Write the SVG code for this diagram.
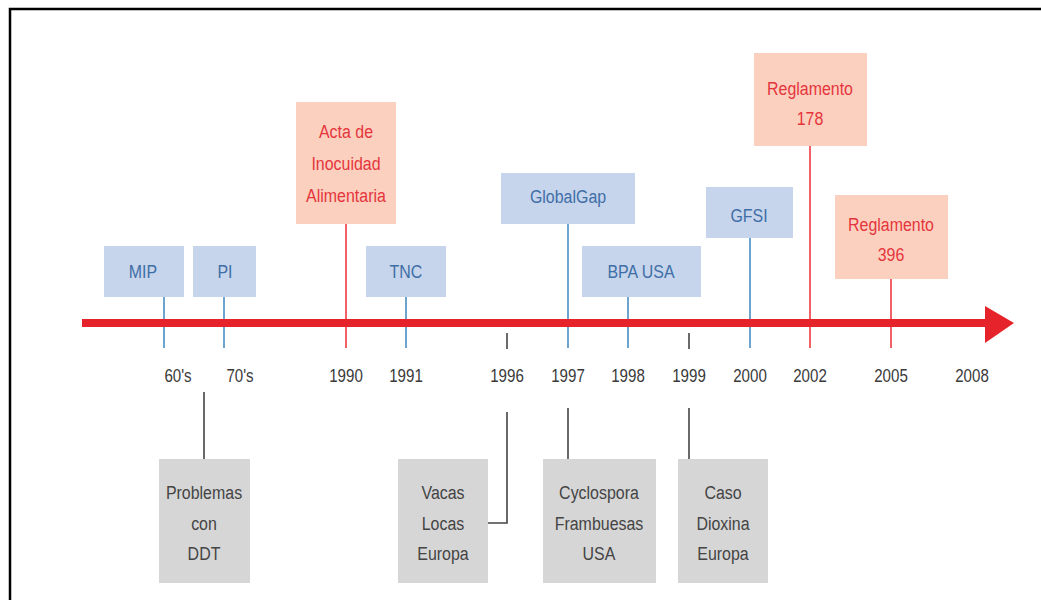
<svg xmlns="http://www.w3.org/2000/svg" width="1041" height="600" viewBox="0 0 1041 600">
  <style>
    text { font-family: "Liberation Sans", Arial, sans-serif; font-size: 19px; text-anchor: middle; }
    .blue rect { fill: #c6d5ec; }
    .blue text { fill: #3f6ea6; }
    .red rect { fill: #fbd0bf; }
    .red text { fill: #e5353c; }
    .grey rect { fill: #d6d6d6; }
    .grey text { fill: #444444; }
    .year { fill: #3a3a3a; font-size: 18px; }
    .tb { stroke: #4a8fc4; stroke-width: 1.6; fill: none; }
    .tr { stroke: #ee3a42; stroke-width: 1.6; fill: none; }
    .tk { stroke: #444444; stroke-width: 1.6; fill: none; }
  </style>

  <rect width="1041" height="600" fill="#ffffff"/>
  <!-- frame -->
  <path d="M10 600 V9 H1041" fill="none" stroke="#000000" stroke-width="2.5"/>

  <!-- connectors and ticks -->
  <g id="connectors">
    <line class="tb" x1="164" y1="297" x2="164" y2="348"/>
    <line class="tb" x1="224" y1="297" x2="224" y2="348"/>
    <line class="tr" x1="346" y1="224" x2="346" y2="348"/>
    <line class="tb" x1="406" y1="297" x2="406" y2="348"/>
    <line class="tk" x1="507" y1="333" x2="507" y2="349"/>
    <line class="tb" x1="568" y1="224" x2="568" y2="348"/>
    <line class="tb" x1="628" y1="297" x2="628" y2="348"/>
    <line class="tk" x1="689" y1="333" x2="689" y2="349"/>
    <line class="tb" x1="750" y1="238" x2="750" y2="348"/>
    <line class="tr" x1="810" y1="146" x2="810" y2="348"/>
    <line class="tr" x1="891" y1="279" x2="891" y2="348"/>
    <line class="tk" x1="204" y1="392" x2="204" y2="459"/>
    <polyline class="tk" points="507,412 507,523 488,523"/>
    <line class="tk" x1="568" y1="408" x2="568" y2="459"/>
    <line class="tk" x1="689" y1="408" x2="689" y2="459"/>
  </g>

  <!-- timeline arrow -->
  <g id="timeline">
    <rect x="82" y="319" width="906" height="8" fill="#e6222b"/>
    <polygon points="985,306 1014,323 985,343" fill="#e6222b"/>
  </g>

  <!-- years (condensed lettering via horizontal scale) -->
  <g id="years">
    <text class="year" transform="translate(178,382) scale(0.84,1)">60's</text>
    <text class="year" transform="translate(240,382) scale(0.84,1)">70's</text>
    <text class="year" transform="translate(346,382) scale(0.84,1)">1990</text>
    <text class="year" transform="translate(406,382) scale(0.84,1)">1991</text>
    <text class="year" transform="translate(507,382) scale(0.84,1)">1996</text>
    <text class="year" transform="translate(568,382) scale(0.84,1)">1997</text>
    <text class="year" transform="translate(628,382) scale(0.84,1)">1998</text>
    <text class="year" transform="translate(689,382) scale(0.84,1)">1999</text>
    <text class="year" transform="translate(750,382) scale(0.84,1)">2000</text>
    <text class="year" transform="translate(810,382) scale(0.84,1)">2002</text>
    <text class="year" transform="translate(891,382) scale(0.84,1)">2005</text>
    <text class="year" transform="translate(972,382) scale(0.84,1)">2008</text>
  </g>

  <!-- upper events -->
  <g id="mip" class="blue">
    <rect x="104" y="246" width="80" height="51"/>
    <text transform="translate(143,278) scale(0.84,1)">MIP</text>
  </g>
  <g id="pi" class="blue">
    <rect x="193" y="246" width="63" height="51"/>
    <text transform="translate(225,278) scale(0.84,1)">PI</text>
  </g>
  <g id="acta" class="red">
    <rect x="296" y="102" width="100" height="122"/>
    <text transform="translate(346,138) scale(0.84,1)">Acta de</text>
    <text transform="translate(346,170) scale(0.84,1)">Inocuidad</text>
    <text transform="translate(346,202) scale(0.84,1)">Alimentaria</text>
  </g>
  <g id="tnc" class="blue">
    <rect x="366" y="246" width="80" height="51"/>
    <text transform="translate(406,278) scale(0.84,1)">TNC</text>
  </g>
  <g id="globalgap" class="blue">
    <rect x="501" y="173" width="134" height="51"/>
    <text transform="translate(568,203) scale(0.84,1)">GlobalGap</text>
  </g>
  <g id="bpa" class="blue">
    <rect x="582" y="246" width="119" height="51"/>
    <text transform="translate(641,278) scale(0.84,1)">BPA USA</text>
  </g>
  <g id="gfsi" class="blue">
    <rect x="706" y="187" width="87" height="51"/>
    <text transform="translate(749,222) scale(0.84,1)">GFSI</text>
  </g>
  <g id="reg178" class="red">
    <rect x="754" y="53" width="113" height="93"/>
    <text transform="translate(810,95) scale(0.84,1)">Reglamento</text>
    <text transform="translate(810,125) scale(0.84,1)">178</text>
  </g>
  <g id="reg396" class="red">
    <rect x="835" y="195" width="113" height="84"/>
    <text transform="translate(891,231) scale(0.84,1)">Reglamento</text>
    <text transform="translate(891,261) scale(0.84,1)">396</text>
  </g>

  <!-- lower events -->
  <g id="ddt" class="grey">
    <rect x="159" y="459" width="91" height="124"/>
    <text transform="translate(204,499) scale(0.84,1)">Problemas</text>
    <text transform="translate(204,530) scale(0.84,1)">con</text>
    <text transform="translate(204,560) scale(0.84,1)">DDT</text>
  </g>
  <g id="vacas" class="grey">
    <rect x="398" y="459" width="90" height="124"/>
    <text transform="translate(443,499) scale(0.84,1)">Vacas</text>
    <text transform="translate(443,530) scale(0.84,1)">Locas</text>
    <text transform="translate(443,560) scale(0.84,1)">Europa</text>
  </g>
  <g id="cyclospora" class="grey">
    <rect x="543" y="459" width="113" height="124"/>
    <text transform="translate(599,499) scale(0.84,1)">Cyclospora</text>
    <text transform="translate(599,530) scale(0.84,1)">Frambuesas</text>
    <text transform="translate(599,560) scale(0.84,1)">USA</text>
  </g>
  <g id="dioxina" class="grey">
    <rect x="678" y="459" width="90" height="124"/>
    <text transform="translate(723,499) scale(0.84,1)">Caso</text>
    <text transform="translate(723,530) scale(0.84,1)">Dioxina</text>
    <text transform="translate(723,560) scale(0.84,1)">Europa</text>
  </g>
</svg>
